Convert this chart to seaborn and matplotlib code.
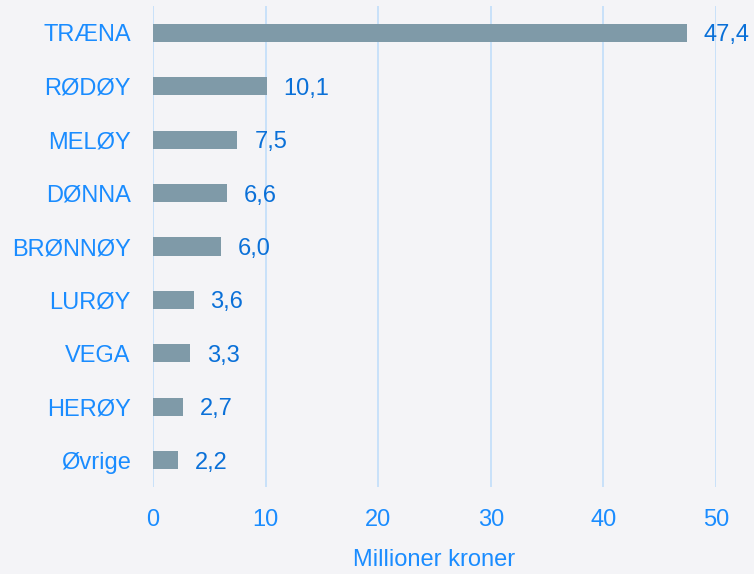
import matplotlib
matplotlib.use("Agg")
import matplotlib.pyplot as plt
import seaborn as sns
import pandas as pd

# Data
kommuner = ["TRÆNA", "RØDØY", "MELØY", "DØNNA", "BRØNNØY", "LURØY", "VEGA", "HERØY", "Øvrige"]
verdier = [47.4, 10.1, 7.5, 6.6, 6.0, 3.6, 3.3, 2.7, 2.2]
x_ticks = [0, 10, 20, 30, 40, 50]

df = pd.DataFrame({"kommune": kommuner, "verdi": verdier})

sns.set_style("white")
plt.rcParams["font.family"] = ["Liberation Sans", "DejaVu Sans"]

bg = "#f4f4f7"
label_blue = "#1a8cff"
value_blue = "#0a70d8"

fig = plt.figure(figsize=(7.54, 5.74), dpi=100, facecolor=bg)
ax = fig.add_axes([0.2029, 0.1516, 0.7467, 0.8379])
ax.set_facecolor(bg)

sns.barplot(data=df, x="verdi", y="kommune", orient="h", color="#7f9aa8",
            saturation=1, width=0.34, linewidth=0, edgecolor="none", ax=ax, zorder=3)

# Value labels, Norwegian decimal comma
for i, v in enumerate(verdier):
    ax.text(v + 1.5, i, f"{v:.1f}".replace(".", ","), va="center_baseline", ha="left",
            fontsize=17, color=value_blue)

ax.set_xlim(0, 50)
ax.set_ylim(8.5, -0.5)
ax.set_xticks(x_ticks)
ax.xaxis.grid(True, color="#c5e0fa", linewidth=1.3, zorder=0)
ax.set_axisbelow(True)
for s in ax.spines.values():
    s.set_visible(False)

ax.tick_params(axis="both", length=0, labelsize=17, labelcolor=label_blue)
ax.tick_params(axis="x", pad=16)
ax.tick_params(axis="y", pad=16)
ax.set_ylabel("")
ax.set_xlabel("Millioner kroner", fontsize=17, color=label_blue, labelpad=13)

fig.savefig("out.png", dpi=100, facecolor=bg)
